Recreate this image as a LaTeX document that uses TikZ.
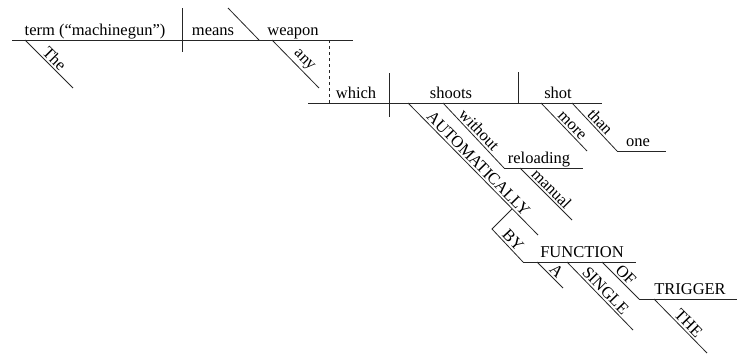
\documentclass[tikz,border=0pt]{standalone}
\usepackage{fontspec}
\setmainfont{Liberation Serif}
\begin{document}
\begin{tikzpicture}[x=1pt,y=-1pt,
  ln/.style={draw=black!85, line width=0.8pt},
  word/.style={font=\fontsize{16.5}{18}\selectfont, inner sep=0pt, anchor=base},
  sword/.style={font=\fontsize{16.5}{18}\selectfont, sloped, above, inner sep=1.8pt}]
\useasboundingbox (0,0) rectangle (737,356);
% coordinates
\coordinate (m0) at (12,40);   \coordinate (m1) at (353,40);
\coordinate (sv1) at (182,8);  \coordinate (sv2) at (182,52);
\coordinate (oc1) at (228,8);  \coordinate (oc2) at (259,40);
\coordinate (the1) at (25,40); \coordinate (the2) at (73,88);
\coordinate (any1) at (272,40);\coordinate (any2) at (319,88);
\coordinate (d1) at (329,40);  \coordinate (d2) at (329,103);
\coordinate (r0) at (308,103); \coordinate (r1) at (602,103);
\coordinate (rv1) at (389,73); \coordinate (rv2) at (389,117);
\coordinate (ro1) at (518,72); \coordinate (ro2) at (518,103);
\coordinate (au1) at (408,103);\coordinate (au2) at (538,235);
\coordinate (wo1) at (443,103);\coordinate (wo2) at (504,168);
\coordinate (rl2) at (583,168);
\coordinate (ma1) at (520,168);\coordinate (ma2) at (572,220);
\coordinate (mo1) at (541,103);\coordinate (mo2) at (587,151);
\coordinate (tn1) at (572,103);\coordinate (tn2) at (617,151);
\coordinate (on2) at (666,151);
\coordinate (by0) at (512,209);\coordinate (by1) at (492,229);
\coordinate (by2) at (523,262);\coordinate (fn2) at (636,262);
\coordinate (a1) at (537,262); \coordinate (a2) at (563,288);
\coordinate (sg1) at (567,262);\coordinate (sg2) at (633,330);
\coordinate (of1) at (602,262);\coordinate (of2) at (639,299);
\coordinate (tr2) at (737,299);
\coordinate (te1) at (654,299);\coordinate (te2) at (707,353);
% lines
\draw[ln] (m0) -- (m1);
\draw[ln] (sv1) -- (sv2);
\draw[ln] (oc1) -- (oc2);
\draw[ln] (the1) -- (the2) node[sword, pos=0.5] (wThe) {The};
\draw[ln] (any1) -- (any2) node[sword, pos=0.55] (wany) {any};
\draw[ln, dashed] (d1) -- (d2);
\draw[ln] (r0) -- (r1);
\draw[ln] (rv1) -- (rv2);
\draw[ln] (ro1) -- (ro2);
\draw[ln] (au1) -- (au2) node[sword, pos=0.5] (wauto) {AUTOMATICALLY};
\draw[ln] (wo1) -- (wo2) node[sword, pos=0.5] (wwithout) {without};
\draw[ln] (wo2) -- (rl2);
\draw[ln] (ma1) -- (ma2) node[sword, pos=0.5] (wmanual) {manual};
\draw[ln] (mo1) -- (mo2) node[sword, pos=0.57] (wmore) {more};
\draw[ln] (tn1) -- (tn2) node[sword, pos=0.5] (wthan) {than};
\draw[ln] (tn2) -- (on2);
\draw[ln] (by0) -- (by1) -- (by2) node[sword, pos=0.5] (wby) {BY};
\draw[ln] (by2) -- (fn2);
\draw[ln] (a1) -- (a2) node[sword, pos=0.55] (wA) {A};
\draw[ln] (sg1) -- (sg2) node[sword, pos=0.5] (wsingle) {SINGLE};
\draw[ln] (of1) -- (of2) node[sword, pos=0.5] (wof) {OF};
\draw[ln] (of2) -- (tr2);
\draw[ln] (te1) -- (te2) node[sword, pos=0.55] (wTHE) {THE};
% horizontal words
\node[word] (wterm) at (95,35.5) {term (“machinegun”)};
\node[word] (wmeans) at (213,35.5) {means};
\node[word] (wweapon) at (293,35.5) {weapon};
\node[word] (wwhich) at (356,98.5) {which};
\node[word] (wshoots) at (451,98.5) {shoots};
\node[word] (wshot) at (558,98.5) {shot};
\node[word] (wreload) at (539,163.5) {reloading};
\node[word] (wone) at (638,146.5) {one};
\node[word] (wfunc) at (582,257.5) {FUNCTION};
\node[word] (wtrig) at (690,294.5) {TRIGGER};
\end{tikzpicture}
\end{document}
